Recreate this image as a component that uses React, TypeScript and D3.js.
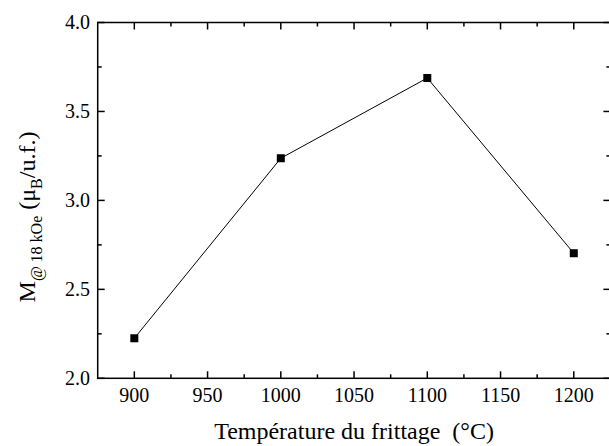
import React from "react";
import * as d3 from "d3";

const temperatures = [900, 1000, 1100, 1200];
const magnetization = [2.225, 3.237, 3.688, 2.703];
const xTicksMajor = [900, 950, 1000, 1050, 1100, 1150, 1200];
const xTicksMinor = [925, 975, 1025, 1075, 1125, 1175];
const yTicksMajor = [2.0, 2.5, 3.0, 3.5, 4.0];
const yTicksMinor = [2.25, 2.75, 3.25, 3.75];

const W = 609;
const H = 446;
const left = 97.7;
const right = 610.4;
const top = 22.5;
const bottom = 378.3;

export default function App() {
  const x = d3.scaleLinear().domain([875, 1225]).range([left, right]);
  const y = d3.scaleLinear().domain([2.0, 4.0]).range([bottom, top]);
  const line = d3
    .line<number>()
    .x((_, i) => x(temperatures[i]))
    .y((d) => y(d));
  const font = "Liberation Serif, Tinos, Times New Roman, DejaVu Serif, serif";
  const major = 7;
  const minor = 4;
  return (
    <svg
      width={W}
      height={H}
      style={{ position: "absolute", left: 0, top: 0, background: "#fff", fontFamily: font }}
    >
      <rect x={0} y={0} width={W} height={H} fill="#fff" />
      <path d={line(magnetization) || ""} fill="none" stroke="#000" strokeWidth={1} />
      {magnetization.map((v, i) => (
        <rect
          key={i}
          x={x(temperatures[i]) - 4}
          y={y(v) - 4}
          width={8}
          height={8}
          fill="#000"
        />
      ))}
      <rect
        x={left}
        y={top}
        width={right - left}
        height={bottom - top}
        fill="none"
        stroke="#000"
        strokeWidth={1.5}
      />
      {xTicksMajor.map((t) => (
        <g key={"xm" + t}>
          <line x1={x(t)} x2={x(t)} y1={bottom} y2={bottom - major} stroke="#000" strokeWidth={1.5} />
          <line x1={x(t)} x2={x(t)} y1={top} y2={top + major} stroke="#000" strokeWidth={1.5} />
          <text x={x(t)} y={402} fontSize={20} textAnchor="middle" fill="#000" style={{ fontFamily: font }}>
            {t}
          </text>
        </g>
      ))}
      {xTicksMinor.map((t) => (
        <g key={"xn" + t}>
          <line x1={x(t)} x2={x(t)} y1={bottom} y2={bottom - minor} stroke="#000" strokeWidth={1.5} />
          <line x1={x(t)} x2={x(t)} y1={top} y2={top + minor} stroke="#000" strokeWidth={1.5} />
        </g>
      ))}
      {yTicksMajor.map((t) => (
        <g key={"ym" + t}>
          <line x1={left} x2={left + major} y1={y(t)} y2={y(t)} stroke="#000" strokeWidth={1.5} />
          <line x1={right} x2={right - major} y1={y(t)} y2={y(t)} stroke="#000" strokeWidth={1.5} />
          <text x={90} y={y(t) + 6.5} fontSize={20} textAnchor="end" fill="#000" style={{ fontFamily: font }}>
            {t.toFixed(1)}
          </text>
        </g>
      ))}
      {yTicksMinor.map((t) => (
        <g key={"yn" + t}>
          <line x1={left} x2={left + minor} y1={y(t)} y2={y(t)} stroke="#000" strokeWidth={1.5} />
          <line x1={right} x2={right - minor} y1={y(t)} y2={y(t)} stroke="#000" strokeWidth={1.5} />
        </g>
      ))}
      <text x={(left + right) / 2} y={439} fontSize={24} textAnchor="middle" fill="#000" xmlSpace="preserve" style={{ fontFamily: font, whiteSpace: "pre" }}>
        Température du frittage  (°C)
      </text>
      <text
        transform={`translate(35, 217) rotate(-90)`}
        fontSize={24}
        textAnchor="middle"
        fill="#000"
        xmlSpace="preserve"
        style={{ fontFamily: font, whiteSpace: "pre" }}
      >
        <tspan>M</tspan>
        <tspan fontSize={16} dy={7}>@ 18 kOe</tspan>
        <tspan dy={-7}> (μ</tspan>
        <tspan fontSize={16} dy={7}>B</tspan>
        <tspan dy={-7}>/u.f.)</tspan>
      </text>
    </svg>
  );
}
